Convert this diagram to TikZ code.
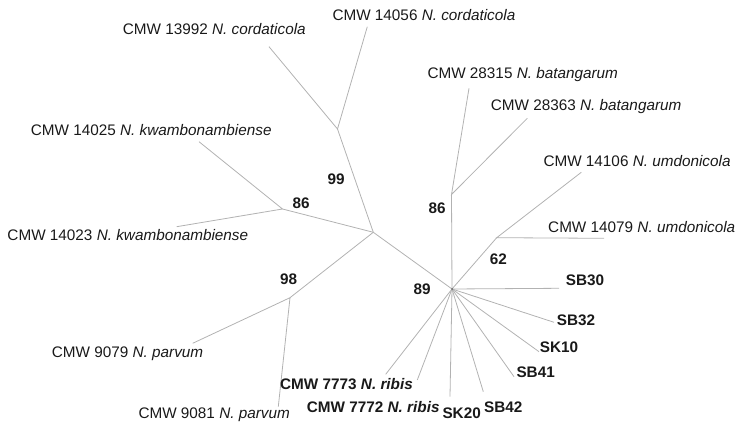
\documentclass[tikz,border=0pt]{standalone}
\usepackage{fontspec}
\setmainfont{Liberation Sans}
\begin{document}
\begin{tikzpicture}[x=1pt,y=-1pt,
  br/.style={draw=black!30,line width=0.8pt},
  lab/.style={anchor=base west,inner sep=0pt,font=\fontsize{15.3}{18}\selectfont,text=black!90},
  blab/.style={lab,font=\fontsize{15.3}{18}\selectfont\bfseries},
  boot/.style={blab}]
\useasboundingbox (0,0) rectangle (748,430);
% internal nodes
\coordinate (A) at (337.5,129);
\coordinate (B) at (373.3,232.3);
\coordinate (K) at (282.5,209);
\coordinate (P) at (290,297.7);
\coordinate (H) at (452,289);
\coordinate (C) at (451.5,194.5);
\coordinate (U) at (496.7,237.7);
% leaf ends
\coordinate (e13992) at (269,46.7);
\coordinate (e14056) at (367.3,26.7);
\coordinate (e14025) at (199,141.7);
\coordinate (e14023) at (176.7,226.7);
\coordinate (e9079) at (192.7,343.3);
\coordinate (e9081) at (278.3,406.7);
\coordinate (e28315) at (469,88.3);
\coordinate (e28363) at (527.3,118.3);
\coordinate (e14106) at (581.3,172.3);
\coordinate (e14079) at (604,238.3);
\coordinate (eSB30) at (559,288.3);
\coordinate (eSB32) at (554,322.3);
\coordinate (eSK10) at (539,351.7);
\coordinate (eSB41) at (514,376.7);
\coordinate (eSB42) at (483.3,391.7);
\coordinate (eSK20) at (450,396.7);
\coordinate (e7772) at (417.3,380);
\coordinate (e7773) at (385.7,374.3);
% branches
\draw[br] (e13992) -- (A) -- (e14056);
\draw[br] (A) -- (B);
\draw[br] (e14025) -- (K) -- (e14023);
\draw[br] (K) -- (B);
\draw[br] (e9079) -- (P) -- (e9081);
\draw[br] (P) -- (B);
\draw[br] (B) -- (H);
\draw[br] (H) -- (C);
\draw[br] (e28315) -- (C) -- (e28363);
\draw[br] (H) -- (U);
\draw[br] (e14106) -- (U) -- (e14079);
\foreach \e in {eSB30,eSB32,eSK10,eSB41,eSB42,eSK20,e7772,e7773}
  \draw[br] (H) -- (\e);
\fill[black!60] (H) circle (1pt);
% leaf labels
\node[lab] (t13992) at (122.7,34.5) {CMW 13992 \textit{N. cordaticola}};
\node[lab] (t14056) at (332.3,20.5) {CMW 14056 \textit{N. cordaticola}};
\node[lab] (t28315) at (427.3,78.3) {CMW 28315 \textit{N. batangarum}};
\node[lab] (t28363) at (490.7,110.7) {CMW 28363 \textit{N. batangarum}};
\node[lab] (t14106) at (543.3,166.7) {CMW 14106 \textit{N. umdonicola}};
\node[lab] (t14079) at (548,232.3) {CMW 14079 \textit{N. umdonicola}};
\node[lab] (t14025) at (30.7,136) {CMW 14025 \textit{N. kwambonambiense}};
\node[lab] (t14023) at (7.3,240.7) {CMW 14023 \textit{N. kwambonambiense}};
\node[lab] (t9079) at (51.7,357.5) {CMW 9079 \textit{N. parvum}};
\node[lab] (t9081) at (138.3,419) {CMW 9081 \textit{N. parvum}};
\node[blab] (t7773) at (280,390) {CMW 7773 \textit{N. ribis}};
\node[blab] (t7772) at (306.7,412.3) {CMW 7772 \textit{N. ribis}};
\node[blab] (tSK20) at (442.3,418.3) {SK20};
\node[blab] (tSB42) at (484,412.3) {SB42};
\node[blab] (tSB41) at (516.3,377.7) {SB41};
\node[blab] (tSK10) at (539.7,352.7) {SK10};
\node[blab] (tSB32) at (556.7,326) {SB32};
\node[blab] (tSB30) at (565.7,285.7) {SB30};
% bootstrap values
\node[boot] (b99) at (327.3,185) {99};
\node[boot] (b86a) at (292.3,209) {86};
\node[boot] (b86b) at (428.3,213.3) {86};
\node[boot] (b89) at (413.3,295) {89};
\node[boot] (b98) at (280,285) {98};
\node[boot] (b62) at (489.7,264.3) {62};
\end{tikzpicture}
\end{document}
